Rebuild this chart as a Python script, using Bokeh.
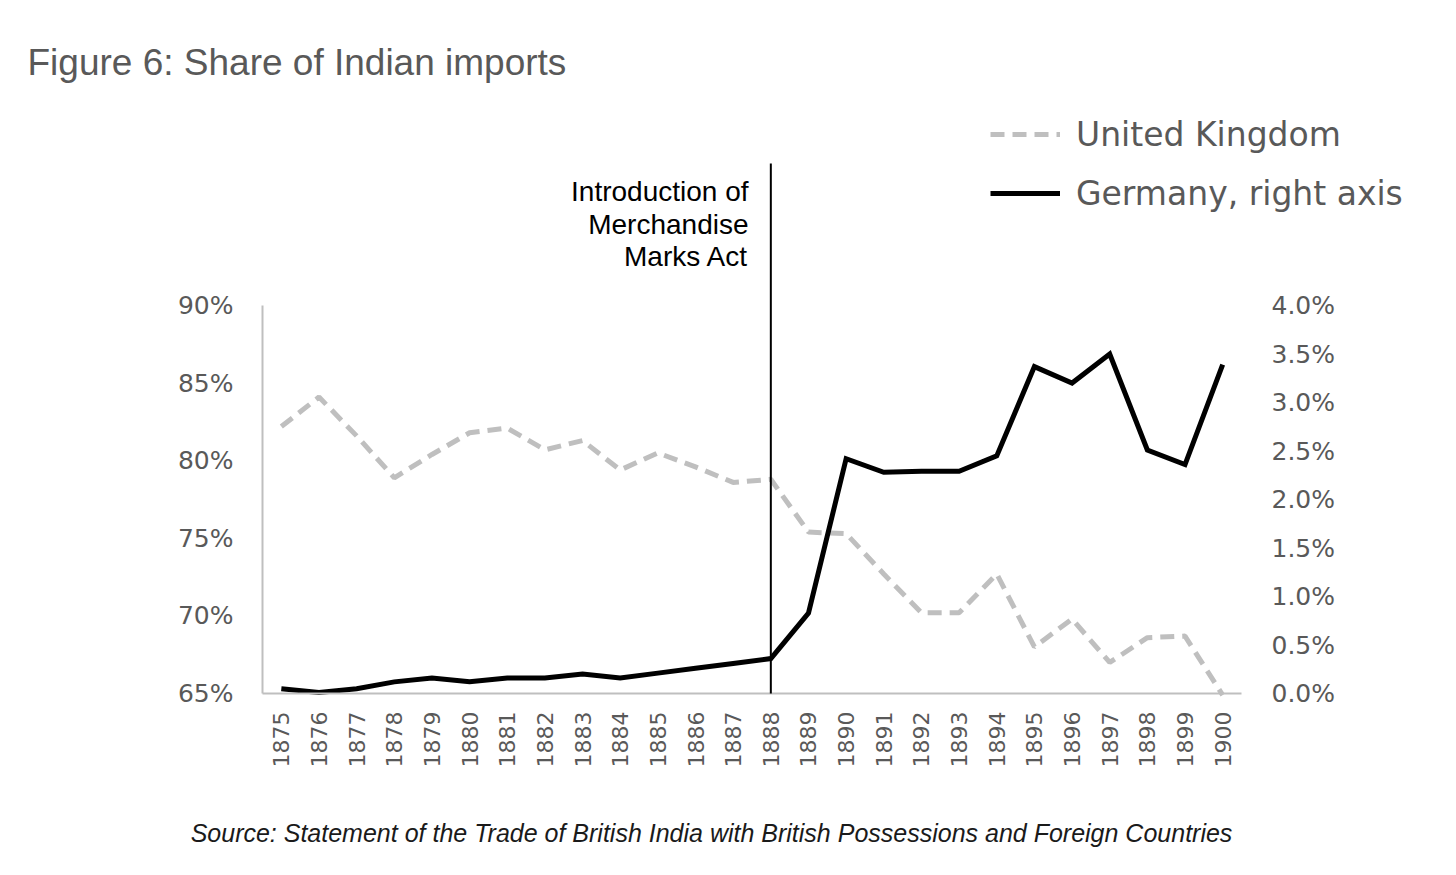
import math
from bokeh.plotting import figure
from bokeh.models import (Range1d, LinearAxis, FixedTicker, NumeralTickFormatter,
                          Label, Arrow, Legend, LegendItem)
from bokeh.embed import file_html
from bokeh.resources import INLINE

# ---------------- data ----------------
years = list(range(1875, 1901))
uk_share = [0.822, 0.841, 0.816, 0.789, 0.804, 0.818, 0.821, 0.807, 0.813, 0.794,
            0.805, 0.796, 0.786, 0.788, 0.754, 0.753, 0.727, 0.702, 0.702, 0.727,
            0.680, 0.698, 0.670, 0.686, 0.687, 0.649]
germany_share = [0.0005, 0.0001, 0.0005, 0.0012, 0.0016, 0.0012, 0.0016, 0.0016, 0.0020, 0.0016,
                 0.0021, 0.0026, 0.0031, 0.0036, 0.0083, 0.0242, 0.0228, 0.0229, 0.0229, 0.0245,
                 0.0337, 0.0320, 0.0350, 0.0251, 0.0236, 0.0339]
left_ticks = [0.65, 0.70, 0.75, 0.80, 0.85, 0.90]
right_ticks = [0.0, 0.005, 0.01, 0.015, 0.02, 0.025, 0.03, 0.035, 0.04]
event_year = 1888
title_text = "Figure 6: Share of Indian imports"
event_lines = ["Introduction of", "Merchandise", "Marks Act"]
source_text = "Source: Statement of the Trade of British India with British Possessions and Foreign Countries"
series_names = ["United Kingdom", "Germany, right axis"]

# ---------------- layout ----------------
W, H = 1450, 868
PL, PR, PT, PB = 262, 1241, 305, 693      # plot-area edges in page px
ax0, ax1 = years[0] - 0.5, years[-1] + 0.5
ay0, ay1 = left_ticks[0], left_ticks[-1]
ar0, ar1 = right_ticks[0], right_ticks[-1]
kx = (ax1 - ax0) / (PR - PL)
ky = (ay1 - ay0) / (PB - PT)
kr = (ar1 - ar0) / (PB - PT)

def dx(px):
    return ax0 + (px - PL) * kx

def dy(py):
    return ay0 + (PB - py) * ky

# the frame covers the whole canvas; axes are pinned at the plot-area edges
p = figure(width=W, height=H, output_backend="svg", toolbar_location=None, title=None,
           x_range=Range1d(dx(0), dx(W)), y_range=Range1d(dy(H), dy(0)),
           min_border=0, min_border_left=0, min_border_right=0,
           min_border_top=0, min_border_bottom=0)
p.extra_y_ranges = {"right": Range1d(ar0 - (H - PB) * kr, ar0 + PB * kr)}
p.outline_line_color = None
p.grid.visible = False
p.background_fill_color = "white"
p.border_fill_color = "white"

tick_font = "DejaVu Sans"
# x axis
xa = p.xaxis[0]
xa.fixed_location = ay0
xa.bounds = (ax0, ax1)
xa.ticker = FixedTicker(ticks=years)
xa.major_label_orientation = math.pi / 2
xa.axis_line_color = "#bfbfbf"
xa.axis_line_width = 2
xa.major_tick_line_color = None
xa.minor_tick_line_color = None
xa.major_label_standoff = 12
xa.major_label_text_font = tick_font
xa.major_label_text_font_size = "22px"
xa.major_label_text_color = "#595959"

# left axis
ya = p.yaxis[0]
ya.fixed_location = ax0
ya.bounds = (ay0, ay1)
ya.ticker = FixedTicker(ticks=left_ticks)
ya.formatter = NumeralTickFormatter(format="0%")
ya.axis_line_color = "#bfbfbf"
ya.axis_line_width = 2
ya.major_tick_line_color = None
ya.minor_tick_line_color = None
ya.major_label_standoff = 23
ya.major_label_text_font = tick_font
ya.major_label_text_font_size = "25px"
ya.major_label_text_color = "#595959"

# right axis
ra = LinearAxis(y_range_name="right", ticker=FixedTicker(ticks=right_ticks),
                formatter=NumeralTickFormatter(format="0.0%"))
ra.fixed_location = ax1
ra.bounds = (ar0, ar1)
ra.axis_line_color = None
ra.major_tick_line_color = None
ra.minor_tick_line_color = None
ra.major_label_standoff = 24
ra.major_label_text_font = tick_font
ra.major_label_text_font_size = "25px"
ra.major_label_text_color = "#595959"
p.add_layout(ra, "right")

# lines
r_uk = p.line(years, uk_share, line_color="#bfbfbf", line_width=5, line_dash="14 8")
r_de = p.line(years, germany_share, y_range_name="right", line_color="black", line_width=5,
              line_join="miter")

# event marker
p.add_layout(Arrow(end=None, x_start=event_year, y_start=ay0, x_end=event_year, y_end=dy(163),
                   line_color="black", line_width=2))
for i, t in enumerate(event_lines):
    p.add_layout(Label(x=dx(748), y=dy(191 + i * 32.5), text=t, text_align="right",
                       text_baseline="alphabetic", text_font="Liberation Sans",
                       text_font_size="28px", text_color="black"))

# legend
legend = Legend(items=[LegendItem(label=series_names[0], renderers=[r_uk]),
                       LegendItem(label=series_names[1], renderers=[r_de])],
                location=(990, H - 213), padding=0, margin=0, spacing=19,
                glyph_width=70, glyph_height=40, label_height=40, label_standoff=16,
                label_text_font="DejaVu Sans", label_text_font_size="33px",
                label_text_color="#595959", border_line_color=None,
                background_fill_alpha=0)
p.add_layout(legend, "center")

# title and source
p.add_layout(Label(x=dx(27), y=dy(62), text=title_text, text_align="left",
                   text_baseline="alphabetic", text_font="Liberation Sans",
                   text_font_size="37px", text_color="#595959"))
p.add_layout(Label(x=dx(711), y=dy(832), text=source_text, text_align="center",
                   text_baseline="alphabetic", text_font="Liberation Sans",
                   text_font_style="italic", text_font_size="25px", text_color="#1a1a1a"))

open("out.html", "w").write(file_html(p, INLINE))
